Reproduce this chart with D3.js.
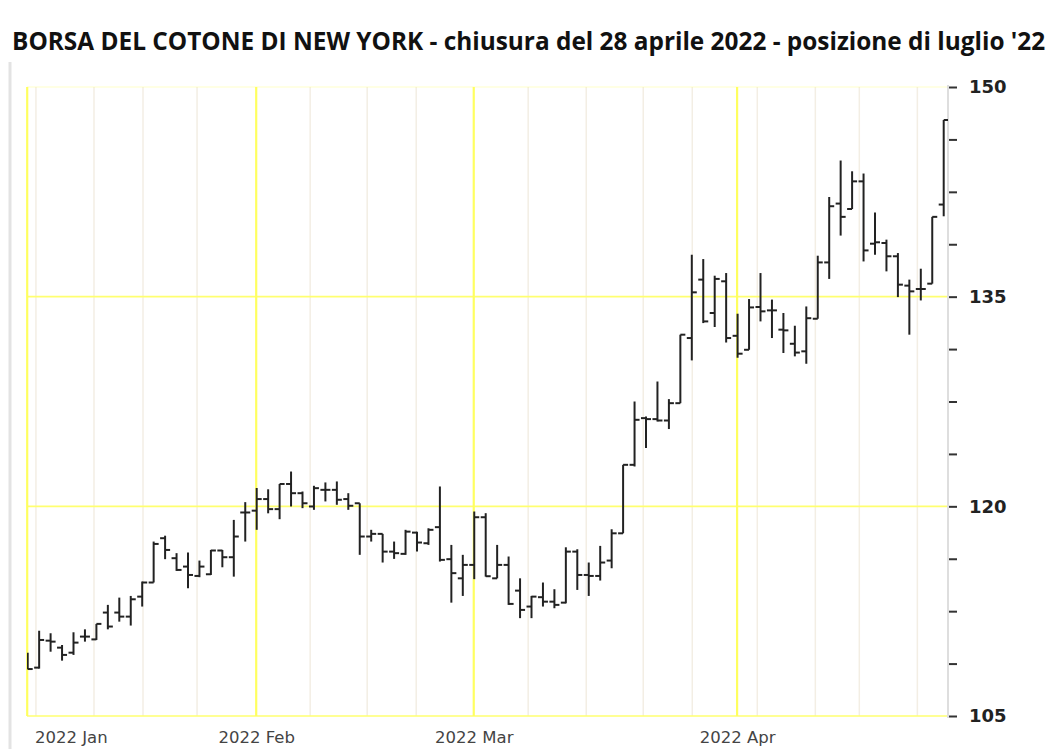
<!DOCTYPE html>
<html>
<head>
<meta charset="utf-8">
<script src="https://cdn.jsdelivr.net/npm/d3@7"></script>
<style>
  body { margin: 0; background: #fff; }
  svg { display: block; }
</style>
</head>
<body>
<svg id="chart" width="1050" height="749"></svg>
<script>
// trading days, Jan 3 .. Apr 28 2022
const days = [
  "2022-01-03","2022-01-04","2022-01-05","2022-01-06","2022-01-07","2022-01-10","2022-01-11","2022-01-12","2022-01-13","2022-01-14",
  "2022-01-18","2022-01-19","2022-01-20","2022-01-21","2022-01-24","2022-01-25","2022-01-26","2022-01-27","2022-01-28","2022-01-31",
  "2022-02-01","2022-02-02","2022-02-03","2022-02-04","2022-02-07","2022-02-08","2022-02-09","2022-02-10","2022-02-11","2022-02-14",
  "2022-02-15","2022-02-16","2022-02-17","2022-02-18","2022-02-22","2022-02-23","2022-02-24","2022-02-25","2022-02-28",
  "2022-03-01","2022-03-02","2022-03-03","2022-03-04","2022-03-07","2022-03-08","2022-03-09","2022-03-10","2022-03-11","2022-03-14",
  "2022-03-15","2022-03-16","2022-03-17","2022-03-18","2022-03-21","2022-03-22","2022-03-23","2022-03-24","2022-03-25","2022-03-28",
  "2022-03-29","2022-03-30","2022-03-31",
  "2022-04-01","2022-04-04","2022-04-05","2022-04-06","2022-04-07","2022-04-08","2022-04-11","2022-04-12","2022-04-13","2022-04-14",
  "2022-04-18","2022-04-19","2022-04-20","2022-04-21","2022-04-22","2022-04-25","2022-04-26","2022-04-27","2022-04-28"
];

const opens = [
  109.25,108.46,110.39,109.89,109.53,110.68,110.48,112.40,112.40,112.11,
  113.54,114.55,117.72,116.29,115.69,115.02,115.14,116.84,116.36,119.56,
  119.69,120.52,119.80,121.60,120.94,119.99,121.18,121.18,120.52,120.22,
  117.84,118.03,116.76,116.60,118.12,117.36,118.51,116.22,114.85,
  115.81,119.22,114.85,115.81,113.97,112.83,113.50,113.18,113.11,116.76,
  115.09,115.02,116.12,118.07,122.97,126.31,126.24,126.14,127.38,132.04,
  136.22,133.83,136.10,
  132.20,131.20,134.26,134.02,132.64,131.63,131.09,133.42,137.45,141.66,
  141.27,143.25,138.79,138.84,137.89,135.79,135.55,135.93,141.59
];
const highs = [
  109.53,111.10,110.92,110.08,110.99,111.20,111.59,112.95,113.47,113.59,
  114.62,117.48,117.90,116.65,116.69,116.12,116.88,116.88,119.03,120.30,
  121.31,121.22,121.60,122.49,121.06,121.47,121.71,121.78,120.94,120.22,
  118.32,118.03,117.48,118.32,118.19,118.43,121.42,117.24,116.53,
  119.63,119.51,117.24,116.41,114.85,113.59,114.55,114.07,117.07,116.93,
  115.98,117.17,118.36,122.97,127.50,126.43,128.93,127.67,132.28,138.00,
  137.69,136.50,136.69,
  133.78,134.83,136.69,134.79,133.83,132.92,134.30,137.93,142.13,144.74,
  143.97,143.81,141.03,139.08,138.12,136.22,137.00,140.71,147.64
];
const lows = [
  108.34,108.39,109.60,108.96,109.37,110.32,110.44,111.20,111.75,111.47,
  112.83,114.55,116.22,115.38,114.14,114.93,115.09,115.64,114.97,117.48,
  118.32,119.50,119.08,119.99,119.87,119.75,120.35,120.11,119.75,116.53,
  117.48,115.98,116.24,116.53,116.76,117.24,116.05,113.11,113.59,
  114.79,114.97,114.85,112.95,112.00,112.00,112.83,112.71,113.06,114.02,
  113.59,114.69,115.57,118.07,122.85,124.17,126.07,125.53,127.38,130.44,
  133.11,132.83,131.72,
  130.63,131.20,133.23,132.04,130.97,130.73,130.20,133.42,136.27,139.37,
  141.27,137.52,138.00,136.81,134.97,132.28,134.73,135.93,140.75
];
const closes = [
  108.36,110.44,110.32,109.37,110.25,110.68,111.59,111.40,112.11,113.35,
  114.55,117.31,116.88,115.45,115.09,115.69,116.84,116.36,117.84,119.56,
  120.52,119.80,121.60,120.94,120.22,121.30,121.18,120.47,120.04,117.84,
  118.03,116.76,116.65,118.19,117.41,118.32,116.17,115.22,115.81,
  119.22,115.00,115.81,113.02,112.59,113.54,113.18,112.95,116.76,115.09,
  115.02,115.98,118.07,122.97,126.19,126.24,126.14,127.38,132.28,135.31,
  133.23,136.27,132.04,
  130.92,134.23,133.95,134.02,132.59,131.00,133.46,137.45,141.47,140.71,
  143.25,138.31,138.89,137.89,135.86,135.38,135.55,140.71,147.64
];

// month starts (first trading day) and weekly grid positions, in trading-day index
const monthLabels = ["2022 Jan", "2022 Feb", "2022 Mar", "2022 Apr"];
const monthStarts = [0, 20, 39, 62];
const weekLines = [0.72, 5.79, 10.07, 14.79, 24.67, 29.65, 33.93, 43.71, 48.78, 53.76, 58.04, 63.72, 68.79, 72.63, 77.7];
const yLabels = [105, 120, 135, 150];
const yMinorStep = 3.75;

const titleText = "BORSA DEL COTONE DI NEW YORK - chiusura del 28 aprile 2022 - posizione di luglio '22";

const dataset = days.map((d, i) => ({ date: d, i: i, o: opens[i], h: highs[i], l: lows[i], c: closes[i] }));

const plot = { left: 27, right: 948, top: 87, bottom: 716 };

const x = d3.scaleLinear().domain([0, 80]).range([27.7, 943.7]);
const y = d3.scaleLinear().domain([105, 150]).range([plot.bottom, plot.top]);

const svg = d3.select("#chart");

svg.append("defs").append("clipPath").attr("id", "plotclip")
  .append("rect")
  .attr("x", plot.left).attr("y", plot.top - 10)
  .attr("width", plot.right - plot.left).attr("height", plot.bottom - plot.top + 20);

// outer frame
svg.append("line")
  .attr("x1", 10).attr("x2", 10).attr("y1", 62).attr("y2", 749)
  .attr("stroke", "#e3e3e3").attr("stroke-width", 3);

// title, stretched to the full width
const title = svg.append("text")
  .attr("x", 12).attr("y", 50)
  .attr("font-family", "'Open Sans', sans-serif")
  .attr("font-weight", "bold")
  .attr("font-size", 19)
  .attr("fill", "#111")
  .text(titleText);
const tw = title.node().getComputedTextLength();
title.attr("font-size", 19 * 1034 / tw);

// weekly grid
svg.append("g")
  .selectAll("line")
  .data(weekLines)
  .enter()
  .append("line")
  .attr("x1", (d) => x(d)).attr("x2", (d) => x(d))
  .attr("y1", plot.top).attr("y2", plot.bottom)
  .attr("stroke", "#f3eee4").attr("stroke-width", 1.5);

// horizontal grid at labelled values
svg.append("g")
  .selectAll("line")
  .data(yLabels)
  .enter()
  .append("line")
  .attr("x1", plot.left).attr("x2", plot.right)
  .attr("y1", (d) => y(d)).attr("y2", (d) => y(d))
  .attr("stroke", "#ffff70")
  .attr("stroke-opacity", (d) => (d === 150 ? 0.25 : 1))
  .attr("stroke-width", 1.6);

// month grid
svg.append("g")
  .selectAll("line")
  .data(monthStarts)
  .enter()
  .append("line")
  .attr("x1", (d) => x(d) - 0.5).attr("x2", (d) => x(d) - 0.5)
  .attr("y1", plot.top).attr("y2", plot.bottom)
  .attr("stroke", "#ffff60").attr("stroke-width", 2.2);

// right axis line
svg.append("line")
  .attr("x1", plot.right).attr("x2", plot.right)
  .attr("y1", plot.top - 2).attr("y2", plot.bottom + 2)
  .attr("stroke", "#dedede").attr("stroke-width", 2);

// y axis ticks and labels
const minorTicks = d3.range(105, 150.01, yMinorStep);
const yAxis = d3.axisRight(y)
  .tickValues(minorTicks)
  .tickSize(8)
  .tickPadding(12)
  .tickFormat((d) => (yLabels.includes(d) ? d : ""));
const gy = svg.append("g")
  .attr("transform", "translate(" + (plot.right + 1) + ",0)")
  .call(yAxis);
gy.select(".domain").remove();
gy.selectAll(".tick line").attr("stroke", "#333").attr("stroke-width", 2);
gy.selectAll(".tick text")
  .attr("font-family", "'DejaVu Sans', sans-serif")
  .attr("font-weight", "bold")
  .attr("font-size", 18)
  .attr("fill", "#222");

// x labels
const xl = svg.append("g")
  .selectAll("text")
  .data(monthStarts)
  .enter()
  .append("text")
  .attr("x", (d) => x(d))
  .attr("y", 743)
  .attr("text-anchor", "middle")
  .attr("font-family", "'DejaVu Sans', sans-serif")
  .attr("font-size", 16.5)
  .attr("fill", "#444")
  .text((d, i) => monthLabels[i]);
xl.each(function (d) {
  const w = this.getComputedTextLength();
  if (x(d) - w / 2 < 35) d3.select(this).attr("text-anchor", "start").attr("x", 35);
});

// OHLC bars
const bars = svg.append("g").attr("clip-path", "url(#plotclip)")
  .selectAll("g").data(dataset).enter().append("g");
bars.append("line")
  .attr("x1", (d) => x(d.i)).attr("x2", (d) => x(d.i))
  .attr("y1", (d) => y(d.h)).attr("y2", (d) => y(d.l))
  .attr("stroke", "#222").attr("stroke-width", 2);
bars.append("line")
  .attr("x1", (d) => x(d.i) - 5).attr("x2", (d) => x(d.i))
  .attr("y1", (d) => y(d.o)).attr("y2", (d) => y(d.o))
  .attr("stroke", "#222").attr("stroke-width", 2);
bars.append("line")
  .attr("x1", (d) => x(d.i)).attr("x2", (d) => x(d.i) + 5)
  .attr("y1", (d) => y(d.c)).attr("y2", (d) => y(d.c))
  .attr("stroke", "#222").attr("stroke-width", 2);
</script>
</body>
</html>
